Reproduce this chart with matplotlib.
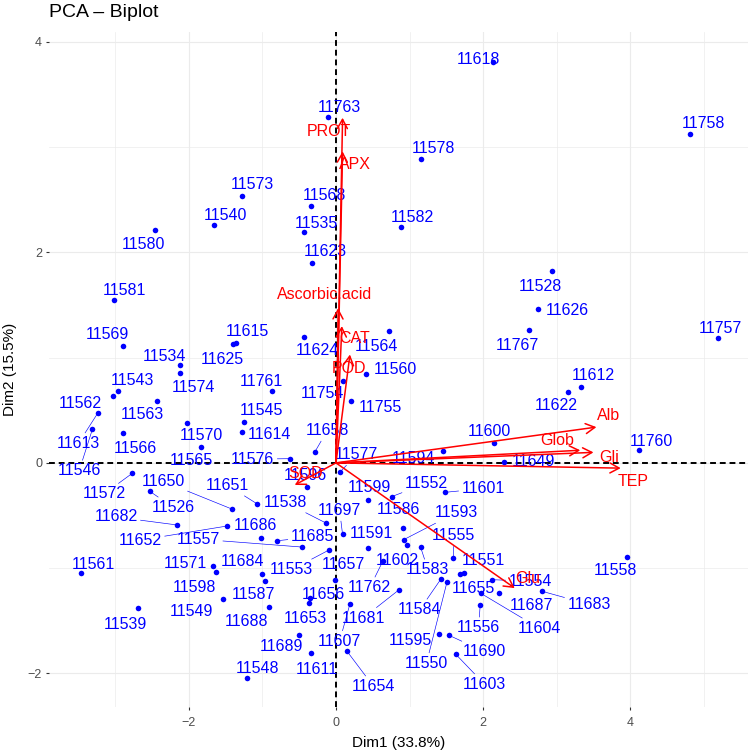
import numpy as np
import matplotlib.pyplot as plt
from matplotlib.patches import FancyArrowPatch

plt.rcParams['font.family'] = ['Liberation Sans', 'DejaVu Sans']

# individuals (PCA scores)
ids = ['11618', '11758', '11763', '11578', '11573', '11568', '11540', '11535', '11582', '11580',
       '11623', '11581', '11528', '11626', '11767', '11757', '11569', '11615', '11625', '11534',
       '11574', '11543', '11562', '11613', '11546', '11563', '11566', '11570', '11565', '11761',
       '11545', '11614', '11576', '11624', '11564', '11560', '11754', '11755', '11658', '11577',
       '11596', '11600', '11594', '11649', '11612', '11622', '11760', '11572', '11650', '11651',
       '11526', '11538', '11697', '11682', '11652', '11686', '11557', '11685', '11553', '11599',
       '11552', '11601', '11586', '11593', '11591', '11602', '11583', '11555', '11551', '11655',
       '11584', '11550', '11595', '11690', '11603', '11556', '11604', '11554', '11687', '11683',
       '11558', '11657', '11762', '11681', '11607', '11654', '11656', '11653', '11689', '11611',
       '11548', '11571', '11598', '11684', '11587', '11549', '11688', '11561', '11539']

dim1 = [2.13, 4.81, -0.11, 1.15, -1.28, -0.34, -1.66, -0.44, 0.88, -2.46,
        -0.32, -3.02, 2.94, 2.75, 2.63, 5.19, -2.90, -1.36, -1.40, -2.12,
        -2.12, -2.96, -3.03, -3.24, -3.31, -2.43, -2.90, -2.03, -1.83, -0.87,
        -1.25, -1.28, -0.63, -0.43, 0.72, 0.41, 0.09, 0.20, -0.29, 0.05,
        -0.39, 2.15, 1.46, 2.28, 3.33, 3.15, 4.12, -2.77, -1.41, -1.07,
        -2.53, -0.14, 0.09, -2.16, -1.48, -1.02, -0.46, -0.80, -0.10, 0.43,
        0.76, 1.48, 0.91, 0.92, 0.43, 0.97, 1.15, 1.59, 1.74, 1.69,
        1.43, 1.51, 1.40, 1.54, 1.63, 1.96, 1.97, 2.12, 2.22, 2.80,
        3.96, -0.01, 0.64, 0.85, 0.19, 0.15, -0.35, -0.37, -0.50, -0.34,
        -1.21, -1.67, -1.63, -1.00, -0.96, -1.53, -0.91, -3.46, -2.69]

dim2 = [3.81, 3.13, 3.29, 2.89, 2.54, 2.44, 2.26, 2.19, 2.24, 2.21,
        1.90, 1.55, 1.82, 1.46, 1.26, 1.19, 1.11, 1.14, 1.13, 0.93,
        0.85, 0.68, 0.64, 0.47, 0.32, 0.59, 0.28, 0.38, 0.15, 0.68,
        0.39, 0.29, 0.04, 1.20, 1.25, 0.84, 0.78, 0.59, 0.10, -0.09,
        -0.23, 0.19, 0.11, 0.01, 0.72, 0.67, 0.12, -0.10, -0.44, -0.39,
        -0.27, -0.57, -0.68, -0.59, -0.60, -0.71, -0.80, -0.74, -0.83, -0.35,
        -0.32, -0.28, -0.62, -0.73, -0.81, -0.78, -0.80, -0.90, -1.05, -1.06,
        -1.10, -1.13, -1.63, -1.64, -1.82, -1.35, -1.24, -1.11, -1.24, -1.22,
        -0.89, -1.11, -0.93, -1.21, -1.34, -1.79, -1.28, -1.33, -1.64, -1.81,
        -2.04, -0.98, -1.04, -1.06, -1.12, -1.29, -1.37, -1.05, -1.38]

# repelled label positions (layout, same order as ids)
lab_x = [1.93, 4.99, 0.05, 1.32, -1.14, -0.15, -1.50, -0.27, 1.04, -2.61,
         -0.14, -2.88, 2.78, 3.14, 2.46, 5.23, -3.11, -1.21, -1.55, -2.33,
         -1.94, -2.77, -3.47, -3.50, -3.49, -2.63, -2.72, -1.83, -1.96, -1.01,
         -1.01, -0.90, -1.13, -0.25, 0.55, 0.81, -0.19, 0.60, -0.12, 0.28,
         -0.42, 2.09, 1.05, 2.68, 3.50, 2.99, 4.28, -3.15, -2.35, -1.47,
         -2.21, -0.69, 0.05, -2.99, -2.66, -1.10, -1.87, -0.32, -0.60, 0.46,
         1.23, 2.00, 0.85, 1.63, 0.48, 0.83, 1.25, 1.59, 2.01, 1.87,
         1.14, 1.23, 1.01, 2.02, 2.02, 1.94, 2.77, 2.64, 2.66, 3.44,
         3.80, 0.10, 0.46, 0.37, 0.05, 0.51, -0.17, -0.41, -0.74, -0.26,
         -1.06, -2.05, -1.92, -1.27, -1.12, -1.97, -1.21, -3.30, -2.86]

lab_y = [3.85, 3.24, 3.39, 3.00, 2.66, 2.56, 2.37, 2.29, 2.35, 2.09,
         2.02, 1.65, 1.69, 1.46, 1.13, 1.29, 1.23, 1.26, 1.00, 1.03,
         0.73, 0.80, 0.58, 0.20, -0.06, 0.47, 0.15, 0.27, 0.04, 0.79,
         0.51, 0.28, 0.05, 1.08, 1.12, 0.90, 0.67, 0.54, 0.32, 0.09,
         -0.11, 0.31, 0.06, 0.03, 0.84, 0.56, 0.22, -0.28, -0.16, -0.20,
         -0.41, -0.36, -0.44, -0.50, -0.72, -0.58, -0.71, -0.69, -1.00, -0.22,
         -0.18, -0.23, -0.43, -0.46, -0.66, -0.91, -1.00, -0.68, -0.91, -1.18,
         -1.38, -1.89, -1.67, -1.78, -2.09, -1.55, -1.56, -1.11, -1.34, -1.33,
         -1.01, -0.95, -1.17, -1.46, -1.68, -2.11, -1.24, -1.46, -1.73, -1.95,
         -1.94, -0.94, -1.17, -0.92, -1.24, -1.40, -1.49, -0.95, -1.52]

# variables (arrow ends)
var_names = ['PROT', 'APX', 'Ascorbic.acid', 'CAT', 'POD', 'SOD',
             'Alb', 'Glob', 'Gli', 'TEP', 'Glu']
var_dim1 = [0.09, 0.09, 0.03, 0.08, 0.19, -0.56, 3.54, 3.32, 3.50, 3.87, 2.43]
var_dim2 = [3.28, 2.96, 1.47, 1.30, 1.03, -0.21, 0.34, 0.12, 0.10, -0.05, -1.19]
var_lab_x = [-0.09, 0.26, -0.15, 0.26, 0.18, -0.41, 3.71, 3.00, 3.71, 4.04, 2.61]
var_lab_y = [3.16, 2.85, 1.61, 1.20, 0.91, -0.09, 0.46, 0.23, 0.07, -0.16, -1.08]

fig = plt.figure(figsize=(7.52, 7.52), dpi=100)
ax = fig.add_axes([49 / 752, 45 / 752, 699 / 752, 675 / 752])
ax.set_xlim(-3.90, 5.60)
ax.set_ylim(-2.32, 4.095)

for s in ax.spines.values():
    s.set_visible(False)
ax.set_xticks([-2, 0, 2, 4])
ax.set_yticks([-2, 0, 2, 4])
ax.set_xticks([-3, -1, 1, 3, 5], minor=True)
ax.set_yticks([-1, 1, 3], minor=True)
ax.grid(which='major', color='#EBEBEB', lw=0.8)
ax.grid(which='minor', color='#EBEBEB', lw=0.5)
ax.set_axisbelow(True)
ax.tick_params(which='major', length=2.5, width=0.8, color='#333333',
               labelcolor='#4D4D4D', labelsize=9)
ax.tick_params(axis='x', which='major', pad=4.5)
ax.tick_params(axis='y', which='major', pad=2.5)
ax.tick_params(which='minor', length=0)

ax.axhline(0, color='black', ls=(0, (3, 2)), lw=1.4, zorder=1.5)
ax.axvline(0, color='black', ls=(0, (3, 2)), lw=1.4, zorder=1.5)

ax.scatter(dim1, dim2, s=16, c='blue', linewidths=0, zorder=3)

texts = []
for name, lx, ly in zip(ids, lab_x, lab_y):
    t = ax.text(lx, ly, name, color='blue', fontsize=11.5, ha='center',
                va='center_baseline', zorder=4)
    texts.append(t)

# connector segments like ggrepel: from the point towards the label centre,
# stopping at the (padded) label box, only when the label sits far away
fig.canvas.draw()
renderer = fig.canvas.get_renderer()
inv = ax.transData.inverted()
pad = 3
for t, x, y in zip(texts, dim1, dim2):
    bb = t.get_window_extent(renderer)
    cx, cy = (bb.x0 + bb.x1) / 2, (bb.y0 + bb.y1) / 2
    hw, hh = bb.width / 2 + pad, bb.height / 2 + pad
    px, py = ax.transData.transform((x, y))
    dx, dy = px - cx, py - cy
    tx = hw / abs(dx) if dx != 0 else np.inf
    ty = hh / abs(dy) if dy != 0 else np.inf
    tt = min(tx, ty)
    if tt >= 1:
        continue
    if (1 - tt) * np.hypot(dx, dy) > 8.5:
        ex, ey = cx + tt * dx, cy + tt * dy
        (x0, y0), (x1, y1) = inv.transform([(px, py), (ex, ey)])
        ax.plot([x0, x1], [y0, y1], color='blue', lw=0.45, zorder=2)

for vx, vy in zip(var_dim1, var_dim2):
    arr = FancyArrowPatch((0, 0), (vx, vy),
                          arrowstyle='->,head_length=0.55,head_width=0.3',
                          mutation_scale=12, color='red', lw=1.1,
                          shrinkA=0, shrinkB=0, zorder=5)
    ax.add_patch(arr)
for name, lx, ly in zip(var_names, var_lab_x, var_lab_y):
    ax.text(lx, ly, name, color='red', fontsize=11.5, ha='center',
            va='center_baseline', zorder=6)

fig.text(49 / 752, 1 - 17 / 752, 'PCA – Biplot', fontsize=14, ha='left', va='baseline')
fig.text(398.5 / 752, 1 - 746.5 / 752, 'Dim1 (33.8%)', fontsize=11, ha='center', va='baseline')
fig.text(10 / 752, 1 - 369 / 752, 'Dim2 (15.5%)', fontsize=11, ha='center', va='center',
         rotation=90)

fig.savefig('out.png', dpi=100)
